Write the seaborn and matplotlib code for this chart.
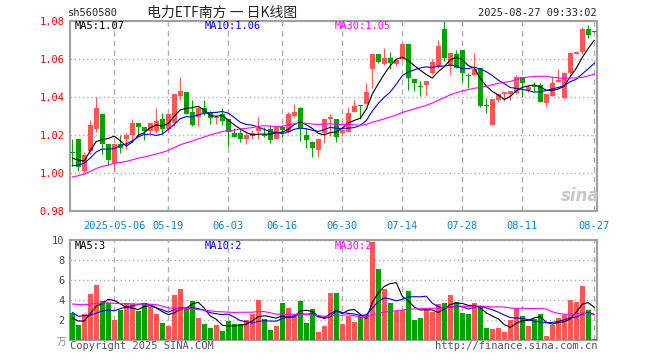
import numpy as np
import pandas as pd
import matplotlib
matplotlib.use('Agg')
import matplotlib.pyplot as plt
import seaborn as sns

# trading days on the chart, 2025-04-22 .. 2025-08-27 (holidays removed)
holidays = ['2025-05-01', '2025-05-02', '2025-05-05', '2025-06-02']
days = [d.strftime('%Y-%m-%d') for d in pd.bdate_range('2025-04-22', '2025-08-27')
        if d.strftime('%Y-%m-%d') not in holidays]

tick_dates = ['2025-05-06', '2025-05-19', '2025-06-03', '2025-06-16', '2025-06-30',
              '2025-07-14', '2025-07-28', '2025-08-11', '2025-08-27']
tick_labels = ['2025-05-06', '05-19', '06-03', '06-16', '06-30', '07-14', '07-28', '08-11', '08-27']

open_ = [1.0110, 1.0180, 1.0010, 1.0120, 1.0235, 1.0310, 1.0154, 1.0053, 1.0152, 1.0179,
         1.0202, 1.0265, 1.0244, 1.0225, 1.0223, 1.0285, 1.0235, 1.0263, 1.0406, 1.0428,
         1.0325, 1.0298, 1.0346, 1.0325, 1.0290, 1.0312, 1.0284, 1.0214, 1.0214, 1.0181,
         1.0196, 1.0223, 1.0204, 1.0232, 1.0181, 1.0246, 1.0219, 1.0302, 1.0346, 1.0202,
         1.0167, 1.0123, 1.0214, 1.0286, 1.0286, 1.0214, 1.0219, 1.0325, 1.0358, 1.0365,
         1.0547, 1.0628, 1.0575, 1.0609, 1.0574, 1.0601, 1.0681, 1.0496, 1.0458, 1.0465,
         1.0530, 1.0561, 1.0758, 1.0570, 1.0628, 1.0649, 1.0514, 1.0518, 1.0553, 1.0356,
         1.0254, 1.0386, 1.0418, 1.0420, 1.0421, 1.0505, 1.0439, 1.0458, 1.0465, 1.0368,
         1.0407, 1.0482, 1.0395, 1.0526, 1.0628, 1.0637, 1.0758, 1.0746]
high = [1.0180, 1.0180, 1.0110, 1.0280, 1.0400, 1.0310, 1.0155, 1.0155, 1.0202, 1.0210,
        1.0288, 1.0267, 1.0246, 1.0266, 1.0342, 1.0316, 1.0313, 1.0418, 1.0507, 1.0428,
        1.0386, 1.0350, 1.0386, 1.0330, 1.0305, 1.0342, 1.0284, 1.0237, 1.0237, 1.0225,
        1.0228, 1.0298, 1.0245, 1.0254, 1.0251, 1.0254, 1.0325, 1.0365, 1.0347, 1.0237,
        1.0168, 1.0182, 1.0288, 1.0312, 1.0288, 1.0230, 1.0347, 1.0386, 1.0360, 1.0474,
        1.0628, 1.0630, 1.0658, 1.0637, 1.0600, 1.0688, 1.0681, 1.0500, 1.0486, 1.0488,
        1.0600, 1.0702, 1.0807, 1.0640, 1.0649, 1.0650, 1.0530, 1.0632, 1.0556, 1.0395,
        1.0390, 1.0420, 1.0430, 1.0435, 1.0518, 1.0508, 1.0465, 1.0479, 1.0474, 1.0420,
        1.0505, 1.0547, 1.0532, 1.0639, 1.0640, 1.0768, 1.0781, 1.0747]
low = [1.0040, 1.0010, 1.0000, 1.0100, 1.0220, 1.0100, 1.0044, 1.0010, 1.0105, 1.0130,
       1.0167, 1.0195, 1.0177, 1.0210, 1.0214, 1.0205, 1.0215, 1.0250, 1.0386, 1.0310,
       1.0250, 1.0250, 1.0307, 1.0260, 1.0260, 1.0256, 1.0140, 1.0189, 1.0163, 1.0155,
       1.0179, 1.0181, 1.0193, 1.0161, 1.0181, 1.0189, 1.0214, 1.0295, 1.0172, 1.0132,
       1.0088, 1.0088, 1.0161, 1.0196, 1.0167, 1.0196, 1.0219, 1.0323, 1.0286, 1.0365,
       1.0447, 1.0580, 1.0570, 1.0547, 1.0565, 1.0595, 1.0439, 1.0435, 1.0405, 1.0412,
       1.0525, 1.0556, 1.0593, 1.0518, 1.0553, 1.0482, 1.0447, 1.0516, 1.0350, 1.0319,
       1.0252, 1.0377, 1.0380, 1.0386, 1.0420, 1.0403, 1.0430, 1.0432, 1.0375, 1.0347,
       1.0405, 1.0479, 1.0393, 1.0523, 1.0626, 1.0630, 1.0710, 1.0744]
close = [1.0108, 1.0035, 1.0095, 1.0255, 1.0343, 1.0155, 1.0070, 1.0154, 1.0135, 1.0202,
         1.0263, 1.0246, 1.0225, 1.0265, 1.0275, 1.0233, 1.0311, 1.0418, 1.0433, 1.0312,
         1.0254, 1.0346, 1.0316, 1.0290, 1.0295, 1.0277, 1.0220, 1.0193, 1.0181, 1.0202,
         1.0214, 1.0237, 1.0198, 1.0175, 1.0246, 1.0228, 1.0312, 1.0325, 1.0237, 1.0175,
         1.0132, 1.0181, 1.0286, 1.0298, 1.0193, 1.0228, 1.0319, 1.0354, 1.0356, 1.0430,
         1.0628, 1.0588, 1.0609, 1.0579, 1.0598, 1.0681, 1.0500, 1.0477, 1.0455, 1.0486,
         1.0588, 1.0670, 1.0609, 1.0632, 1.0553, 1.0530, 1.0511, 1.0547, 1.0354, 1.0354,
         1.0389, 1.0418, 1.0428, 1.0433, 1.0505, 1.0477, 1.0456, 1.0456, 1.0377, 1.0418,
         1.0477, 1.0491, 1.0530, 1.0632, 1.0637, 1.0760, 1.0728, 1.0745]
# volume, in 万
volume = [2.70, 1.53, 2.63, 4.67, 5.53, 3.93, 3.70, 2.07, 3.03, 3.70,
          3.63, 2.93, 3.70, 3.30, 2.63, 1.77, 1.43, 4.57, 5.13, 3.13,
          3.93, 2.23, 1.63, 1.20, 1.50, 0.95, 1.90, 1.60, 1.60, 2.00,
          2.60, 4.00, 2.10, 1.00, 1.40, 3.70, 3.20, 2.50, 3.90, 1.70,
          3.10, 0.80, 1.40, 4.77, 4.77, 1.63, 2.43, 1.83, 2.30, 2.53,
          9.87, 7.13, 5.13, 3.73, 2.93, 3.03, 4.90, 2.03, 2.23, 3.13,
          2.87, 3.63, 3.73, 4.53, 3.83, 2.73, 2.63, 3.73, 3.37, 1.23,
          1.17, 1.23, 0.83, 2.03, 3.23, 2.43, 1.43, 2.10, 2.63, 0.43,
          1.53, 2.23, 2.50, 4.03, 3.83, 5.43, 3.03, 0.17]

# 29 sessions before the window (not drawn), estimated so the MA lines start where the picture shows
prior_close = [0.982, 0.985, 0.983, 0.986, 0.984, 0.987, 0.985,
               1.002, 1.004, 1.001, 0.999, 1.003, 1.005, 1.002, 0.998, 1.000, 0.996, 0.999, 1.001, 0.999,
               0.999, 1.001, 0.998, 1.002, 1.000,
               1.0085, 1.012, 0.998, 1.0105]
prior_volume = [3.0, 3.4, 2.8, 3.3, 3.1, 3.2, 3.2,
                4.2, 3.6, 3.9, 4.0, 3.5, 3.9, 3.8,
                6.2, 7.0, 5.1, 4.8, 4.6, 4.3,
                5.5, 2.1, 3.9, 3.8, 1.6,
                3.0, 2.6, 1.0, 1.8]

RED = '#ff5555'
GREEN = '#00a300'
GRIDC = '#b0b0b0'
BORDER = '#a0a0a0'

df = pd.DataFrame({'day': days, 'open': open_, 'high': high, 'low': low,
                   'close': close, 'volume': volume})
df['x'] = np.arange(len(df))
df['color'] = np.where(df['close'] >= df['open'], RED, GREEN)

n0 = len(prior_close)
all_close = pd.Series(prior_close + close)
all_vol = pd.Series(prior_volume + volume)
ma = {}
vma = {}
for n in (5, 10, 30):
    ma[n] = all_close.rolling(n).mean().iloc[n0:].values
    vma[n] = all_vol.rolling(n).mean().iloc[n0:].values
ma_colors = {5: 'black', 10: '#0000ff', 30: '#ff00ff'}

sns.set_style('white')
plt.rcParams['font.family'] = ['DejaVu Sans Mono', 'Noto Sans CJK SC']

fig = plt.figure(figsize=(6.6, 3.6), dpi=100)
ax = fig.add_axes([70 / 660, 1 - 211.3 / 360, 527 / 660, 190 / 360])
axv = fig.add_axes([70 / 660, 1 - 340.3 / 360, 527 / 660, 100 / 360])

tick_pos = [days.index(d) for d in tick_dates]

# price panel
ax.vlines(df['x'], df['low'], df['high'], colors=df['color'], lw=0.8, zorder=2)
body = (df['close'] - df['open']).abs().clip(lower=0.0005)
ax.bar(df['x'], body, bottom=df[['open', 'close']].min(axis=1), width=0.8,
       color=df['color'], lw=0, zorder=3)
for n in (5, 10, 30):
    sns.lineplot(x=df['x'], y=ma[n], ax=ax, color=ma_colors[n], lw=0.8, zorder=4)

ax.set_xlim(-0.383, 87.45)
ax.set_ylim(0.98, 1.08)
ax.set_yticks([0.98, 1.00, 1.02, 1.04, 1.06, 1.08])
ax.set_yticklabels(['%.2f' % v for v in [0.98, 1.00, 1.02, 1.04, 1.06, 1.08]])
ax.set_xticks(tick_pos)
ax.set_xticklabels(tick_labels)
ax.tick_params(axis='y', length=0, pad=4, labelsize=7.5, labelcolor='#ff0000')
ax.tick_params(axis='x', length=0, pad=7, labelsize=7.5, labelcolor='#0a84d6')
ax.grid(axis='y', ls=(0, (1, 2)), color=GRIDC, lw=1)
ax.grid(axis='x', ls=(0, (4, 3)), color=GRIDC, lw=1)
ax.set_xlabel('')
ax.set_ylabel('')

# volume panel
axv.bar(df['x'], df['volume'], width=0.8, color=df['color'], lw=0, zorder=3)
for n in (5, 10, 30):
    sns.lineplot(x=df['x'], y=vma[n], ax=axv, color=ma_colors[n], lw=0.8, zorder=4)
axv.set_xlim(-0.383, 87.45)
axv.set_ylim(0, 10)
axv.set_yticks([2, 4, 6, 8, 10])
axv.set_xticks(tick_pos)
axv.set_xticklabels([])
axv.tick_params(axis='both', length=0, pad=4, labelsize=7.5, labelcolor='#444444')
axv.grid(axis='y', ls=(0, (1, 2)), color=GRIDC, lw=1)
axv.grid(axis='x', ls=(0, (4, 3)), color=GRIDC, lw=1)
axv.set_xlabel('')
axv.set_ylabel('')

for a in (ax, axv):
    for s in a.spines.values():
        s.set_color(BORDER)
        s.set_linewidth(1.5)
    a.set_axisbelow(True)

# header
fig.text(68 / 660, 1 - 13 / 360, 'sh560580', fontsize=7.5, va='center', ha='left')
fig.text(222 / 660, 1 - 12.5 / 360, '电力ETF南方 一 日K线图', fontsize=10,
         family=['Noto Sans CJK SC', 'DejaVu Sans'], va='center', ha='center')
fig.text(597 / 660, 1 - 12.5 / 360, days[-1] + ' 09:33:02', fontsize=7.5, va='center', ha='right')

# MA legends
for n, px in ((5, 75), (10, 205), (30, 335)):
    fig.text(px / 660, 1 - 26 / 360, 'MA%d:%.2f' % (n, ma[n][-1]), color=ma_colors[n],
             fontsize=7.5, va='center', ha='left')
    fig.text(px / 660, 1 - 246 / 360, 'MA%d:%d' % (n, int(vma[n][-1])), color=ma_colors[n],
             fontsize=7.5, va='center', ha='left')

fig.text(66 / 660, 1 - 342 / 360, '万', fontsize=7, color='#888888',
         family=['Noto Sans CJK SC', 'DejaVu Sans'], va='center', ha='right')
fig.text(70 / 660, 1 - 346 / 360, 'Copyright 2025 SINA.COM', fontsize=7.5, color='#555555',
         va='center', ha='left')
fig.text(597 / 660, 1 - 346 / 360, 'http://finance.sina.com.cn', fontsize=7.5, color='#555555',
         va='center', ha='right')
fig.text(580 / 660, 1 - 196 / 360, 'sina', fontsize=12, color='#c8c8c8', style='italic',
         weight='bold', family='DejaVu Sans', va='center', ha='center')

fig.savefig('out.png', dpi=100, facecolor='white')
